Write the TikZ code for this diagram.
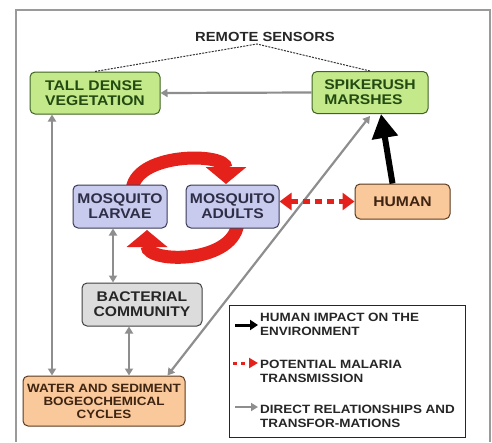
\documentclass[tikz,border=0pt]{standalone}
\usepackage{fontspec}
\setmainfont{Liberation Sans}[FakeStretch=1.12]
\usepackage{tikz}
\usetikzlibrary{arrows.meta, calc}

\definecolor{leafgreen}{HTML}{C4E98A}
\definecolor{leafdark}{HTML}{3E6322}
\definecolor{leaftext}{HTML}{234A12}
\definecolor{lavender}{HTML}{C8CBEE}
\definecolor{lavenderdark}{HTML}{3A3A58}
\definecolor{peach}{HTML}{F9C89B}
\definecolor{peachdark}{HTML}{5A3A1E}
\definecolor{peachtext}{HTML}{3E2412}
\definecolor{bactgrey}{HTML}{DCDCDC}
\definecolor{relgrey}{HTML}{8E8E8E}
\definecolor{framegrey}{HTML}{9A9A9A}
\definecolor{malariared}{HTML}{E5211B}

\begin{document}
\begin{tikzpicture}[x=1pt, y=-1pt,
        box/.style={draw, rounded corners=5pt, line width=1pt, align=center, inner sep=0pt,
            font=\fontsize{14}{15}\selectfont\bfseries},
        greenbox/.style={fill=leafgreen, draw=leafdark, text=leaftext},
        bluebox/.style={fill=lavender, draw=lavenderdark, text=lavenderdark!80!black},
        peachbox/.style={fill=peach, draw=peachdark, text=peachtext},
        greybox/.style={fill=bactgrey, draw=black!75, text=black!85},
        legendtext/.style={anchor=north west, align=left, inner sep=0pt, text=black!85,
            font=\fontsize{12}{14}\selectfont\bfseries},
        relation/.style={draw=relgrey, line width=2.2pt, -{Triangle[width=8pt, length=7pt]}},
        relboth/.style={relation, {Triangle[width=8pt, length=7pt]}-{Triangle[width=8pt, length=7pt]}},
        impact/.style={draw=black, line width=6pt, -{Triangle[width=25pt, length=24pt]}},
        malaria/.style={draw=malariared, line width=4.5pt, dash pattern=on 7pt off 5pt,
            {Triangle[width=17pt, length=12pt]}-{Triangle[width=17pt, length=12pt]}},
        sensorline/.style={draw=black!80, line width=1pt, dash pattern=on 2pt off 1.2pt},
        cyclearrow/.style={draw=malariared, line width=13pt, -{Triangle[width=40pt, length=17pt]}}]
        \useasboundingbox (0,0) rectangle (492,442);
        \draw [framegrey, line width=1.3pt] (16,442) -- (16,10) -- (490,10) -- (490,442);
        \draw [cyclearrow] (132,192) .. controls (132,152) and (226,152) .. (226,184);
        \draw [cyclearrow] (238,220) .. controls (238,264) and (147,264) .. (147,230);
        \node [font=\fontsize{13.2}{15}\selectfont\bfseries, text=black!85] (sensors) at (265,37) {REMOTE SENSORS};
        \coordinate (apex) at (257,44);
        \node [box, greenbox, minimum width=130pt, minimum height=42pt, align=left] (tall) at (95,93) {TALL DENSE\\VEGETATION};
        \node [box, greenbox, minimum width=116pt, minimum height=42pt, align=left] (spike) at (370,92.5) {SPIKERUSH\\MARSHES};
        \node [box, bluebox, minimum width=94pt, minimum height=43pt] (larvae) at (120,206.5) {MOSQUITO\\LARVAE};
        \node [box, bluebox, minimum width=93pt, minimum height=43pt] (adults) at (232.5,206.5) {MOSQUITO\\ADULTS};
        \node [box, peachbox, minimum width=95pt, minimum height=35pt] (human) at (402.5,201.5) {HUMAN};
        \node [box, greybox, minimum width=120pt, minimum height=43pt] (bact) at (142,304.5) {BACTERIAL\\COMMUNITY};
        \node [box, peachbox, minimum width=162pt, minimum height=50pt, font=\fontsize{12}{13}\selectfont\bfseries]
            (water) at (104,401) {WATER AND SEDIMENT\\BOGEOCHEMICAL\\CYCLES};
        \draw [sensorline] (tall.north) -- (apex) -- (spike.north);
        \draw [relation] (spike.west) -- (tall.east);
        \coordinate (tallfoot) at ([xshift=-43pt]tall.south);
        \coordinate (larvaefoot) at ([xshift=-7pt]larvae.south);
        \coordinate (bactfoot) at ([xshift=-13pt]bact.south);
        \draw [relboth] (tallfoot) -- (tallfoot |- water.north);
        \draw [relboth] (larvaefoot) -- (larvaefoot |- bact.north);
        \draw [relboth] (bactfoot) -- (bactfoot |- water.north);
        \draw [relboth] ([xshift=-18pt]water.north east) -- ([yshift=-2pt]spike.south);
        \draw [impact] ([xshift=-10pt]human.north) -- ([xshift=11pt]spike.south);
        \draw [malaria] (adults.east |- human.west) -- (human.west);
        \draw [black!85, line width=0.8pt] (229,305) rectangle (465,437);
        \node [legendtext] (impactkey) at (260,313.4) {HUMAN IMPACT ON THE\\ENVIRONMENT};
        \node [legendtext] (malariakey) at (260,359.7) {POTENTIAL MALARIA\\TRANSMISSION};
        \node [legendtext] (relationkey) at (260,405.2) {DIRECT RELATIONSHIPS AND\\TRANSFOR-MATIONS};
        \coordinate (impactstart) at (235,325);
        \coordinate (malariastart) at (233,363);
        \coordinate (relationstart) at (235,407);
        \draw [black, line width=3pt, -{Triangle[width=10pt, length=8pt]}]
            (impactstart) -- ($(impactkey.west |- impactstart)+(-2,0)$);
        \draw [malariared, line width=3pt, dash pattern=on 4pt off 4pt, -{Triangle[width=10pt, length=9pt]}]
            (malariastart) -- ($(malariakey.west |- malariastart)+(-2,0)$);
        \draw [relgrey, line width=2.2pt, -{Triangle[width=8pt, length=7pt]}]
            (relationstart) -- ($(relationkey.west |- relationstart)+(-2,0)$);
    \end{tikzpicture}
\end{document}
